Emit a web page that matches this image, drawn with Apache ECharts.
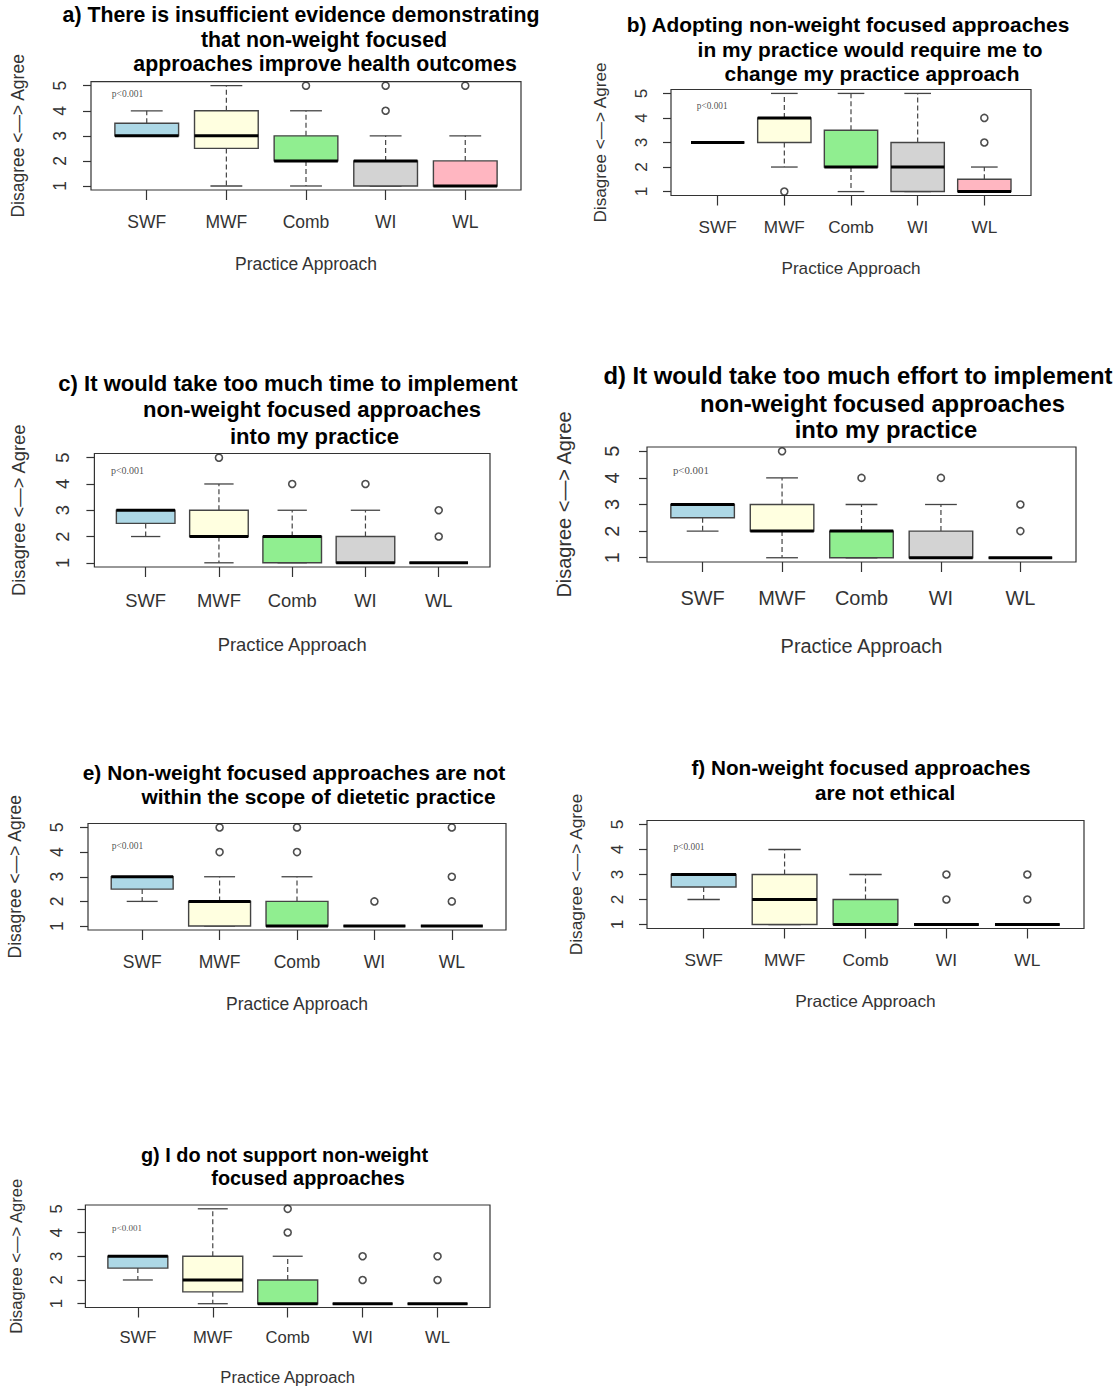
<!DOCTYPE html>
<html><head><meta charset="utf-8">
<script src="https://cdn.jsdelivr.net/npm/echarts@6/dist/echarts.min.js"></script>
<style>html,body{margin:0;padding:0;background:#fff}#c{width:1120px;height:1391px}</style>
</head><body><div id="c"></div>
<script>
// ---------- data ----------
const categories = ['SWF', 'MWF', 'Comb', 'WI', 'WL'];
const yTicks = [1, 2, 3, 4, 5];
const yAxisName = 'Disagree <\u2014> Agree';
const xAxisName = 'Practice Approach';
const pText = 'p<0.001';

// each box: [lower whisker, Q1, median, Q3, upper whisker]
const boxA = [[3,3,3,3.5,4],[1,2.5,3,4,5],[1,2,2,3,4],[1,1,2,2,3],[1,1,1,2,3]];
const outA = [[],[],[5],[4,5],[5]];
const titleA = ['a) There is insufficient evidence demonstrating','that non-weight focused','approaches improve health outcomes'];

const boxB = [[3,3,3,3,3],[2,3,4,4,5],[1,2,2,3.5,5],[1,1,2,3,5],[1,1,1,1.5,2]];
const outB = [[],[1],[],[],[3,4]];
const titleB = ['b) Adopting non-weight focused approaches','in my practice would require me to','change my practice approach'];

const boxC = [[2,2.5,3,3,3],[1,2,2,3,4],[1,1,2,2,3],[1,1,1,2,3],[1,1,1,1,1]];
const outC = [[],[5],[4],[4],[2,3]];
const titleC = ['c) It would take too much time to implement','non-weight focused approaches','into my practice'];

const boxD = [[2,2.5,3,3,3],[1,2,2,3,4],[1,1,2,2,3],[1,1,1,2,3],[1,1,1,1,1]];
const outD = [[],[5],[4],[4],[2,3]];
const titleD = ['d) It would take too much effort to implement','non-weight focused approaches','into my practice'];

const boxE = [[2,2.5,3,3,3],[1,1,2,2,3],[1,1,1,2,3],[1,1,1,1,1],[1,1,1,1,1]];
const outE = [[],[4,5],[4,5],[2],[2,3,5]];
const titleE = ['e) Non-weight focused approaches are not','within the scope of dietetic practice'];

const boxF = [[2,2.5,3,3,3],[1,1,2,3,4],[1,1,1,2,3],[1,1,1,1,1],[1,1,1,1,1]];
const outF = [[],[],[],[2,3],[2,3]];
const titleF = ['f) Non-weight focused approaches','are not ethical'];

const boxG = [[2,2.5,3,3,3],[1,1.5,2,3,5],[1,1,1,2,3],[1,1,1,1,1],[1,1,1,1,1]];
const outG = [[],[],[4,5],[2,3],[2,3]];
const titleG = ['g) I do not support non-weight','focused approaches'];

// ---------- layout / style (kept apart from data) ----------
const boxColors = ['#ADD8E6', '#FFFFE0', '#90EE90', '#D3D3D3', '#FFB6C1'];
const FONT = '"Liberation Sans", Arial, sans-serif';
const SERIF = '"Liberation Serif", "Times New Roman", serif';
// grid: [left, top, right, bottom] in px; s: scale; ts: title font size; tx/ty: title line centres; p: p-value anchor in data units
const panels = [
  {box: boxA, out: outA, title: titleA, grid: [91, 81.7, 521, 190], s: 1.00, ts: 21.3, tx: [301, 324, 325], ty: [15, 39.5, 64], p: [0.555, 4.66]},
  {box: boxB, out: outB, title: titleB, grid: [671, 89.5, 1031, 195.5], s: 0.98, ts: 20.9, tx: [848, 870, 872], ty: [24, 49, 73], p: [0.68, 4.47]},
  {box: boxC, out: outC, title: titleC, grid: [94.4, 453.5, 490, 567], s: 1.05, ts: 22.05, tx: [288, 312, 314.5], ty: [383, 409, 436], p: [0.52, 4.53]},
  {box: boxD, out: outD, title: titleD, grid: [647, 447, 1076, 562], s: 1.14, ts: 23.8, tx: [858, 882.5, 886], ty: [375, 403, 429], p: [0.62, 4.29]},
  {box: boxE, out: outE, title: titleE, grid: [88, 823.5, 506, 930], s: 1.00, ts: 20.9, tx: [294, 318.5], ty: [772, 796], p: [0.60, 4.24]},
  {box: boxF, out: outF, title: titleF, grid: [647, 820.5, 1084, 928.5], s: 0.99, ts: 20.7, tx: [861, 885], ty: [767, 792], p: [0.62, 4.12]},
  {box: boxG, out: outG, title: titleG, grid: [85.4, 1205, 490, 1307.5], s: 0.95, ts: 19.9, tx: [284.5, 308], ty: [1155, 1178], p: [0.65, 4.21]}
];

function renderBox(params, api) {
  const x = api.value(0);
  const lo = api.value(1), q1 = api.value(2), med = api.value(3), q3 = api.value(4), hi = api.value(5);
  const fill = boxColors[params.dataIndex];
  const bw = api.size([0.8, 0])[0];
  const sw = api.size([0.4, 0])[0];
  const pLo = api.coord([x, lo]), pQ1 = api.coord([x, q1]), pMed = api.coord([x, med]);
  const pQ3 = api.coord([x, q3]), pHi = api.coord([x, hi]);
  const cx = pMed[0];
  const ch = [];
  const dash = {stroke: '#444', lineWidth: 1.2, lineDash: [5, 3]};
  const solid = {stroke: '#444', lineWidth: 1.3};
  if (hi > q3) ch.push({type: 'line', shape: {x1: cx, y1: pQ3[1], x2: cx, y2: pHi[1]}, style: dash});
  if (lo < q1) ch.push({type: 'line', shape: {x1: cx, y1: pQ1[1], x2: cx, y2: pLo[1]}, style: dash});
  ch.push({type: 'line', shape: {x1: cx - sw / 2, y1: pHi[1], x2: cx + sw / 2, y2: pHi[1]}, style: solid});
  ch.push({type: 'line', shape: {x1: cx - sw / 2, y1: pLo[1], x2: cx + sw / 2, y2: pLo[1]}, style: solid});
  ch.push({type: 'rect', shape: {x: cx - bw / 2, y: pQ3[1], width: bw, height: pQ1[1] - pQ3[1]},
           style: {fill: fill, stroke: '#444', lineWidth: 1.4}});
  ch.push({type: 'line', shape: {x1: cx - bw / 2, y1: pMed[1], x2: cx + bw / 2, y2: pMed[1]},
           style: {stroke: '#000', lineWidth: 3}});
  return {type: 'group', children: ch};
}

const grid = [], xAxis = [], yAxis = [], series = [], graphic = [];
panels.forEach((p, i) => {
  const s = p.s;
  const fs = 17.5 * s;
  grid.push({left: p.grid[0], top: p.grid[1], width: p.grid[2] - p.grid[0], height: p.grid[3] - p.grid[1],
             show: true, borderColor: '#333', borderWidth: 1.2, backgroundColor: 'transparent', containLabel: false});
  xAxis.push({gridIndex: i, type: 'value', min: 0.3, max: 5.7,
    axisLine: {show: false}, splitLine: {show: false},
    axisTick: {show: true, length: 10, customValues: [1, 2, 3, 4, 5], lineStyle: {color: '#333', width: 1.2}},
    axisLabel: {customValues: [1, 2, 3, 4, 5], formatter: v => categories[Math.round(v) - 1],
                fontSize: fs, fontFamily: FONT, color: '#333', margin: 23 * s},
    name: xAxisName, nameLocation: 'middle', nameGap: 65 * s,
    nameTextStyle: {fontSize: fs, fontFamily: FONT, color: '#333'}});
  yAxis.push({gridIndex: i, type: 'value', min: 0.84, max: 5.16,
    axisLine: {show: false}, splitLine: {show: false},
    axisTick: {show: true, length: 8, customValues: yTicks, lineStyle: {color: '#333', width: 1.2}},
    axisLabel: {customValues: yTicks, rotate: 90, fontSize: fs, fontFamily: FONT, color: '#333', margin: 21.7 * s},
    name: yAxisName, nameLocation: 'middle', nameRotate: 90, nameGap: 63.6 * s,
    nameTextStyle: {fontSize: fs, fontFamily: FONT, color: '#333'}});
  series.push({type: 'custom', xAxisIndex: i, yAxisIndex: i, renderItem: renderBox,
    encode: {x: 0, y: [1, 2, 3, 4, 5]},
    data: p.box.map((b, k) => [k + 1].concat(b)), silent: true, clip: false});
  const outPts = [];
  p.out.forEach((arr, k) => arr.forEach(v => outPts.push([k + 1, v])));
  series.push({type: 'scatter', xAxisIndex: i, yAxisIndex: i, data: outPts, symbol: 'circle', symbolSize: 7,
    itemStyle: {color: 'rgba(255,255,255,0)', borderColor: '#222', borderWidth: 1.6}, silent: true});
  series.push({type: 'scatter', xAxisIndex: i, yAxisIndex: i, data: [p.p], symbolSize: 1,
    itemStyle: {color: 'rgba(0,0,0,0)'}, silent: true,
    label: {show: true, formatter: pText, position: 'right', distance: 0,
            fontFamily: SERIF, fontSize: 9.5 * s, color: '#222'}});
  p.title.forEach((t, k) => {
    graphic.push({type: 'text', x: p.tx[k], y: p.ty[k], silent: true,
      style: {text: t, fontSize: p.ts, fontWeight: 'bold', fontFamily: FONT, fill: '#000',
              align: 'center', verticalAlign: 'middle', textAlign: 'center', textVerticalAlign: 'middle'}});
  });
});

const chart = echarts.init(document.getElementById('c'), null, {renderer: 'svg'});
chart.setOption({animation: false, backgroundColor: '#fff', grid, xAxis, yAxis, series, graphic});
</script>
</body></html>
